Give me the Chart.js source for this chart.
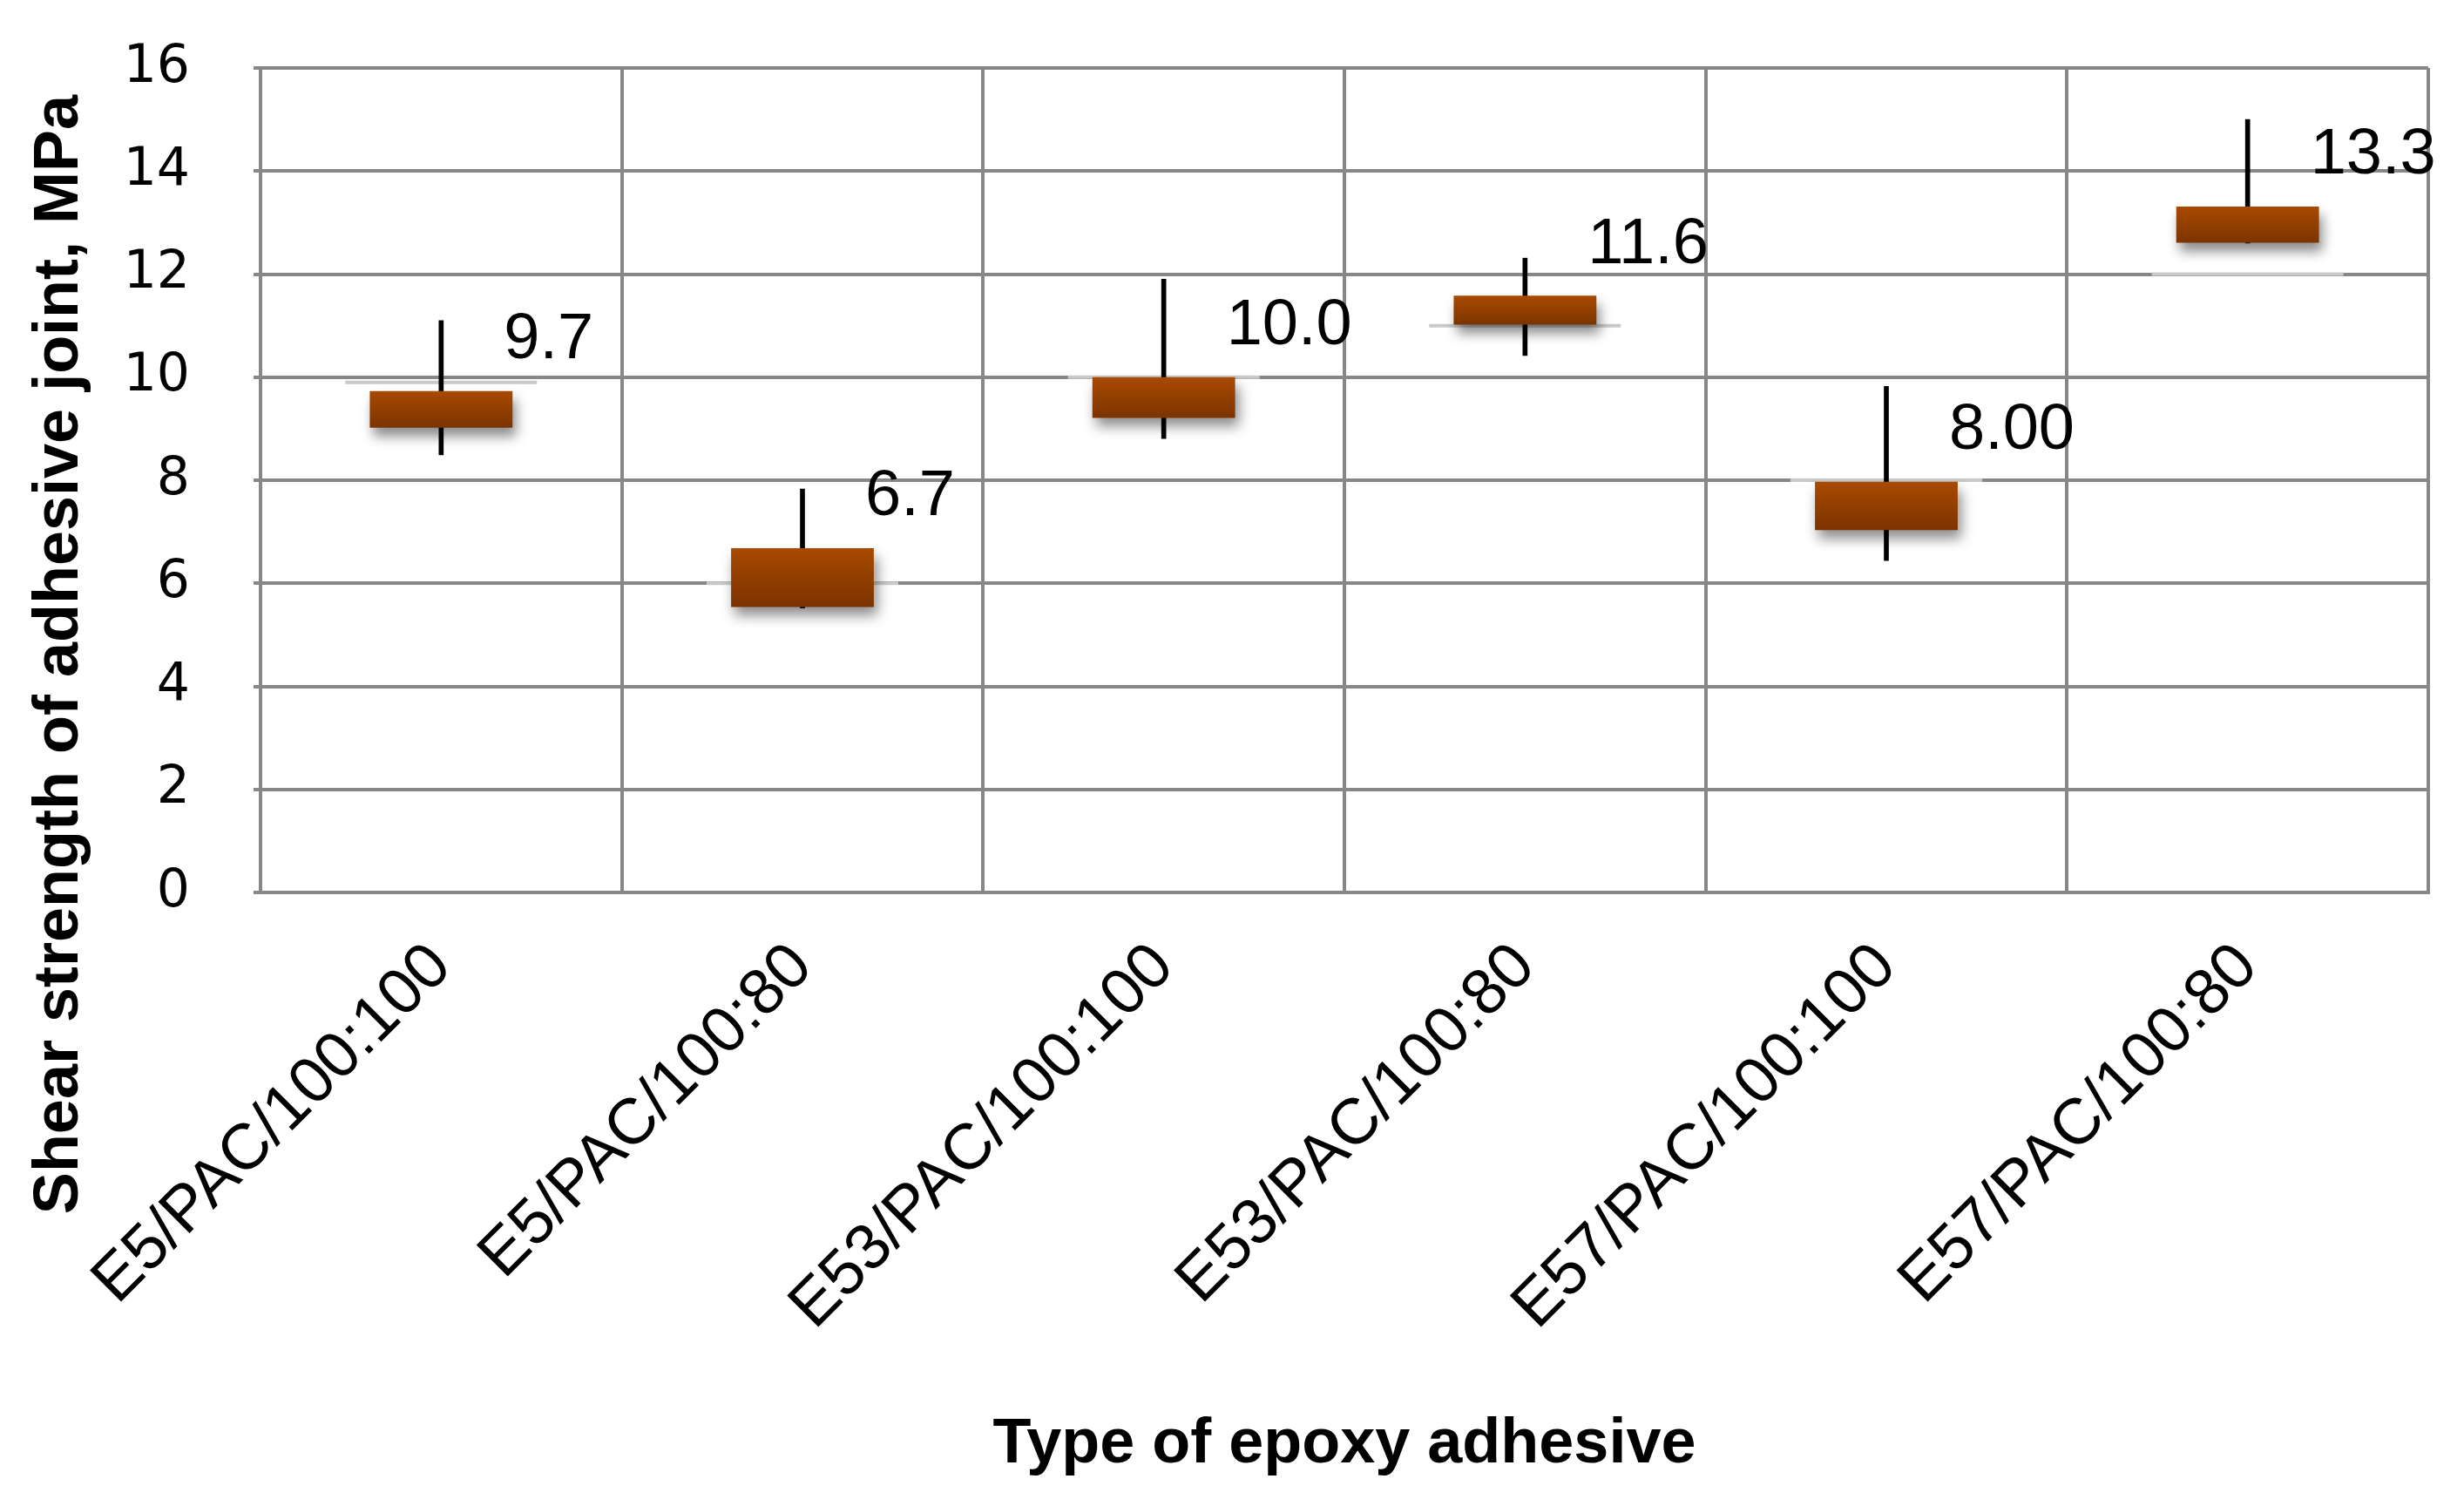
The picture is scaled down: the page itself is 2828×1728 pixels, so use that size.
<!DOCTYPE html>
<html>
<head>
<meta charset="utf-8">
<title>Shear strength of adhesive joint</title>
<script src="https://cdn.jsdelivr.net/npm/chart.js@4.4.0/dist/chart.umd.min.js"></script>
<style>
  html, body { margin: 0; padding: 0; background: #fff; }
  #wrap { width: 2828px; height: 1728px; }
</style>
</head>
<body>
<div id="wrap"><canvas id="grafico" width="2828" height="1728"></canvas></div>
<script>
// data
const categories = ['E5/PAC/100:100', 'E5/PAC/100:80', 'E53/PAC/100:100', 'E53/PAC/100:80', 'E57/PAC/100:100', 'E57/PAC/100:80'];
const openVals  = [9.02, 5.54, 9.21, 11.02, 7.03, 12.61];
const closeVals = [9.73, 6.68, 10.0, 11.58, 7.97, 13.31];
const highVals  = [11.1, 7.83, 11.9, 12.31, 9.82, 15.0];
const lowVals   = [8.49, 5.52, 8.81, 10.42, 6.44, 12.6];
const stubVals  = [9.9, 6.0, 10.0, 11.0, 8.0, 12.0];
const dataLabels = ['9.7', '6.7', '10.0', '11.6', '8.00', '13.3'];
const yTicks = [0, 2, 4, 6, 8, 10, 12, 14, 16];

const gridColor = '#878787';

document.addEventListener('DOMContentLoaded', () => {

    // gradient per box, from bar top to bar bottom
    const boxColor = (ctx) => {
        if (ctx.type !== 'data') return '#9a4200';
        const y = ctx.chart.scales.y;
        const v = ctx.raw;
        const top = y.getPixelForValue(Math.max(v[0], v[1]));
        const bot = y.getPixelForValue(Math.min(v[0], v[1]));
        if (!isFinite(top) || !isFinite(bot) || top === bot) return '#9a4200';
        const g = ctx.chart.ctx.createLinearGradient(0, top, 0, bot);
        g.addColorStop(0, '#a84a00');
        g.addColorStop(1, '#7c3300');
        return g;
    };

    const shadowPlugin = {
        id: 'boxShadow',
        beforeDatasetDraw(chart, args) {
            if (args.index !== 0) return;
            const c = chart.ctx;
            c.save();
            c.shadowColor = 'rgba(0,0,0,0.45)';
            c.shadowBlur = 14;
            c.shadowOffsetX = 4;
            c.shadowOffsetY = 10;
        },
        afterDatasetDraw(chart, args) {
            if (args.index !== 0) return;
            chart.ctx.restore();
        }
    };

    const labelPlugin = {
        id: 'valueLabels',
        afterDatasetsDraw(chart) {
            const c = chart.ctx;
            const x = chart.scales.x, y = chart.scales.y;
            c.save();
            c.font = '74px "Liberation Sans", Arial, sans-serif';
            c.fillStyle = '#000';
            c.textAlign = 'left';
            c.textBaseline = 'middle';
            dataLabels.forEach((t, i) => {
                c.fillText(t, x.getPixelForValue(i) + 72, y.getPixelForValue(closeVals[i]) - 58);
            });
            c.restore();
        }
    };

    const yTitlePlugin = {
        id: 'yTitle',
        afterDraw(chart) {
            const c = chart.ctx;
            c.save();
            c.translate(69, 751);
            c.rotate(-Math.PI / 2);
            c.font = 'bold 72px "Liberation Sans", Arial, sans-serif';
            c.fillStyle = '#000';
            c.textAlign = 'center';
            c.textBaseline = 'middle';
            c.fillText('Shear strength of adhesive joint, MPa', 0, 0);
            c.restore();
        }
    };

    const dataCaja = {
        labels: categories,
        datasets: [
            {
                type: 'bar',
                label: 'Open-Close',
                data: categories.map((_, i) => [openVals[i], closeVals[i]]),
                backgroundColor: boxColor,
                borderWidth: 0,
                grouped: false,
                categoryPercentage: 1,
                barPercentage: 0.395
            },
            {
                type: 'bar',
                label: 'High-Low',
                data: categories.map((_, i) => [lowVals[i], highVals[i]]),
                backgroundColor: '#000',
                borderWidth: 0,
                grouped: false,
                barThickness: 5
            },
            {
                type: 'line',
                label: 'Stub',
                data: stubVals,
                showLine: false,
                pointStyle: 'line',
                pointRadius: 110,
                pointHoverRadius: 110,
                pointBorderColor: '#c9c9c9',
                pointBorderWidth: 4,
                pointBackgroundColor: '#c9c9c9'
            }
        ]
    };

    const configCaja = {
        type: 'bar',
        data: dataCaja,
        options: {
            responsive: false,
            animation: false,
            layout: { autoPadding: false, padding: { top: 78, right: 41, left: 0, bottom: 0 } },
            plugins: {
                legend: { display: false },
                tooltip: { enabled: false }
            },
            scales: {
                x: {
                    offset: true,
                    afterFit: (s) => { s.height = 704; },
                    grid: { color: gridColor, lineWidth: 4, offset: true, drawTicks: false },
                    border: { color: gridColor, width: 4 },
                    ticks: {
                        autoSkip: false,
                        minRotation: 45,
                        maxRotation: 45,
                        padding: 42,
                        color: '#000',
                        font: { family: '"Liberation Sans", Arial, sans-serif', size: 74 }
                    },
                    title: {
                        display: true,
                        text: 'Type of epoxy adhesive',
                        color: '#000',
                        font: { family: '"Liberation Sans", Arial, sans-serif', size: 72, weight: 'bold' },
                        padding: { top: 0, bottom: 27 }
                    }
                },
                y: {
                    min: 0,
                    max: 16,
                    afterFit: (s) => { s.width = 299; s.paddingTop = 0; s.paddingBottom = 0; },
                    afterBuildTicks: (s) => { s.ticks = yTicks.map(v => ({ value: v })); },
                    grid: { color: gridColor, lineWidth: 4, tickLength: 8 },
                    border: { color: gridColor, width: 4 },
                    ticks: {
                        padding: 73,
                        color: '#000',
                        font: { family: '"DejaVu Sans", sans-serif', size: 60 }
                    }
                }
            }
        },
        plugins: [shadowPlugin, labelPlugin, yTitlePlugin]
    };
    new Chart(document.getElementById('grafico'), configCaja);
});
</script>
</body>
</html>
